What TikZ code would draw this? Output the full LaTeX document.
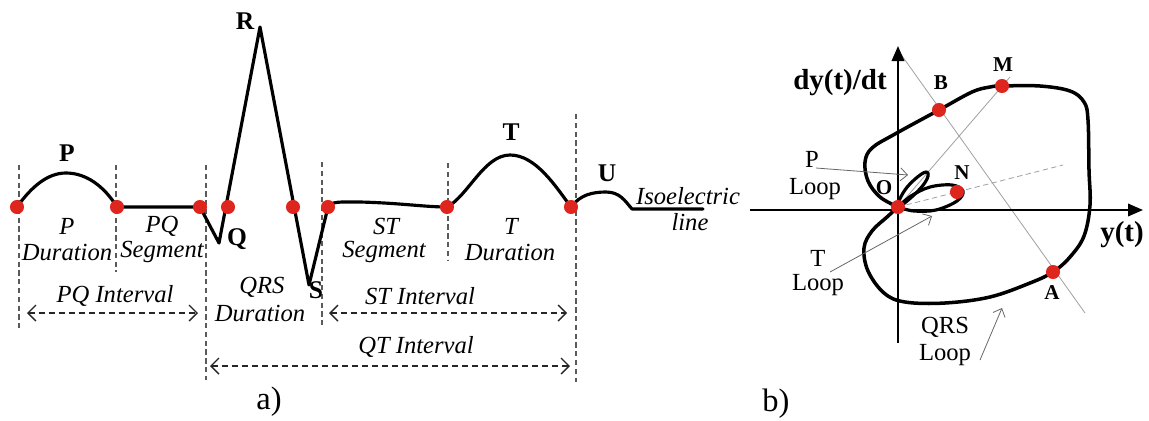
\documentclass[tikz,border=0pt]{standalone}
\usepackage{fontspec}
\setmainfont{Liberation Serif}
\usetikzlibrary{arrows.meta}
\definecolor{dotred}{RGB}{222,38,30}
\definecolor{guidegray}{RGB}{90,90,90}
\tikzset{
  wave/.style={line width=1.8pt, line join=round, line cap=round},
  loopline/.style={line width=2pt, line join=round, line cap=round},
  rdot/.style={circle, fill=dotred, inner sep=0pt, minimum size=8pt},
  guide/.style={draw=guidegray, line width=0.6pt, dash pattern=on 3pt off 2pt},
  darr/.style={draw=black!85, line width=0.8pt, dash pattern=on 3.5pt off 2.2pt,
     {Straight Barb[length=1.6mm,width=3.2mm]}-{Straight Barb[length=1.6mm,width=3.2mm]}},
  itl/.style={font=\fontsize{14}{16}\selectfont\itshape, inner sep=0pt},
  wlbl/.style={font=\fontsize{14.5}{16}\selectfont\bfseries, inner sep=0pt},
  axlbl/.style={font=\fontsize{16.5}{18}\selectfont\bfseries, inner sep=0pt},
  ptlbl/.style={font=\fontsize{12}{14}\selectfont\bfseries, inner sep=0pt},
  rlbl/.style={font=\fontsize{14}{16}\selectfont, inner sep=0pt},
  caplbl/.style={font=\fontsize{18.5}{20}\selectfont, inner sep=0pt},
  conline/.style={draw=gray!75, line width=0.45pt},
  thinarr/.style={draw=gray!80!black, line width=0.45pt, -{Straight Barb[length=1.4mm,width=2.6mm]}},
  axisline/.style={line width=1.1pt, -{Triangle[length=3mm,width=2.5mm]}}
}
\begin{document}
\begin{tikzpicture}[x=0.02cm,y=-0.02cm]
\useasboundingbox (0,0) rectangle (1149,420);
\fill[white] (0,0) rectangle (1149,420);

% ---------------- panel a ----------------
% guide lines
\draw[guide] (19,165) -- (19,330);
\draw[guide] (116,165) -- (116,272);
\draw[guide] (206,165) -- (206,380);
\draw[guide] (322,162) -- (322,327);
\draw[guide] (448,163) -- (448,260);
\draw[guide] (576,114) -- (576,382);

% waveform
\coordinate (p0) at (17,207);
\coordinate (p1) at (117,207);
\coordinate (q0) at (200,207);
\coordinate (qq) at (219,243);
\coordinate (rr) at (260,27);
\coordinate (ss) at (309,285);
\coordinate (s1) at (328,207);
\coordinate (t0) at (447,207);
\coordinate (t1) at (571,207);
\coordinate (iso) at (703,209);
\draw[wave] (p0) .. controls (32,186) and (48,173) .. (66,173)
  .. controls (86,173) and (104,186) .. (p1) -- (q0) -- (qq) -- (rr) -- (ss) -- (s1)
  .. controls (332,201) and (340,202) .. (360,202)
  .. controls (400,203) and (425,207) .. (t0)
  .. controls (468,196) and (484,155) .. (510,155)
  .. controls (536,155) and (556,187) .. (t1)
  .. controls (580,195) and (592,192) .. (606,192)
  .. controls (620,192) and (625,201) .. (632,209) -- (iso);

\node[rdot] (d1) at (p0) {};
\node[rdot] (d2) at (p1) {};
\node[rdot] (d3) at (q0) {};
\node[rdot] (d4) at (228,207) {};
\node[rdot] (d5) at (293,207) {};
\node[rdot] (d6) at (s1) {};
\node[rdot] (d7) at (t0) {};
\node[rdot] (d8) at (t1) {};

% wave labels
\node[wlbl] (lP) at (67,153) {P};
\node[wlbl] (lR) at (245,21) {R};
\node[wlbl] (lQ) at (237,239) {Q};
\node[wlbl] (lS) at (316,290) {S};
\node[wlbl] (lT) at (511,132) {T};
\node[wlbl] (lU) at (607,173) {U};
\node[itl] (iso1) at (688,196) {Isoelectric};
\node[itl] (iso2) at (690,222) {line};

% region labels
\node[itl] (pd1) at (67,226) {P};
\node[itl] (pd2) at (67,252) {Duration};
\node[itl] (ps1) at (162,226) {PQ};
\node[itl] (ps2) at (162,252) {Segment};
\node[itl] (qrs1) at (262,287) {QRS};
\node[itl] (qrs2) at (260,313) {Duration};
\node[itl] (st1) at (386,226) {ST};
\node[itl] (st2) at (384,252) {Segment};
\node[itl] (td1) at (511,226) {T};
\node[itl] (td2) at (510,252) {Duration};
\node[itl] (pqi) at (115,296) {PQ Interval};
\node[itl] (sti) at (420,296) {ST Interval};
\node[itl] (qti) at (416,347) {QT Interval};

% interval arrows
\coordinate (pqL) at (27,313);
\coordinate (pqR) at (198,313);
\coordinate (stL) at (329,313);
\coordinate (stR) at (567,313);
\coordinate (qtL) at (210,366);
\coordinate (qtR) at (570,366);
\draw[darr] (pqL) -- (pqR);
\draw[darr] (stL) -- (stR);
\draw[darr] (qtL) -- (qtR);

\node[caplbl] (capa) at (269,402) {a)};

% ---------------- panel b ----------------
\coordinate (O) at (898,207);
\coordinate (N) at (957,192);
\coordinate (B) at (939,110);
\coordinate (M) at (1002,86);
\coordinate (A) at (1053,272);

% thin construction lines
\coordinate (gBtop) at (900,53);
\coordinate (gBbot) at (1085,313);
\coordinate (gMend) at (1010,77);
\coordinate (gNend) at (1063,165);
\draw[conline] (gBtop) -- (gBbot);
\draw[conline] (O) -- (gMend);
\draw[conline, dash pattern=on 3pt off 2pt] (O) -- (gNend);

% axes
\coordinate (xL) at (750,210);
\coordinate (xR) at (1143,210);
\coordinate (yB) at (898,343);
\coordinate (yT) at (898,46);
\draw[axisline] (xL) -- (xR);
\draw[axisline] (yB) -- (yT);
\node[axlbl] (dy) at (840,83) {dy(t)/dt};
\node[axlbl] (yt) at (1122,235) {y(t)};

% QRS loop
\draw[loopline] plot[smooth, tension=0.6] coordinates {
 (898,207) (880,197) (868,181) (865,162) (872,148) (895,134) (939,110)
 (972,92) (990,87) (1002,86) (1040,86) (1070,91) (1084,102) (1088,120)
 (1089,170) (1090,205) (1084,236) (1070,257) (1053,272) (1030,283)
 (990,297) (945,303) (905,302) (884,293) (868,271) (864,248) (872,231)
 (887,217) (898,207)};
% P loop
\draw[loopline, line width=1.8pt] plot[smooth cycle, tension=0.7] coordinates {
 (898,207) (903,193) (914,180) (926,172) (927,179) (916,193)};
% T loop
\draw[loopline, line width=1.8pt] plot[smooth, tension=0.6] coordinates {
 (898,207) (911,196) (930,187) (952,185) (963,191) (957,201) (936,210) (914,211) (898,207)};

\node[rdot] (dO) at (O) {};
\node[rdot] (dN) at (N) {};
\node[rdot] (dB) at (B) {};
\node[rdot] (dM) at (M) {};
\node[rdot] (dA) at (A) {};
\node[ptlbl] (lO) at (884,188) {O};
\node[ptlbl] (lN) at (962,173) {N};
\node[ptlbl] (lB) at (941,83) {B};
\node[ptlbl] (lM) at (1003,65) {M};
\node[ptlbl] (lA) at (1052,293) {A};

% loop labels
\node[rlbl] (pl1) at (812,159) {P};
\node[rlbl] (pl2) at (815,189) {Loop};
\node[rlbl] (tl1) at (818,258) {T};
\node[rlbl] (tl2) at (818,285) {Loop};
\node[rlbl] (ql1) at (945,327) {QRS};
\node[rlbl] (ql2) at (945,355) {Loop};
\coordinate (pa0) at (816,168);
\coordinate (pa1) at (908,175);
\coordinate (ta0) at (830,272);
\coordinate (ta1) at (932,216);
\coordinate (qa0) at (980,360);
\coordinate (qa1) at (1002,308);
\draw[thinarr] (pa0) -- (pa1);
\draw[thinarr] (ta0) -- (ta1);
\draw[thinarr] (qa0) -- (qa1);

\node[caplbl] (capb) at (776,404) {b)};
\end{tikzpicture}
\end{document}
